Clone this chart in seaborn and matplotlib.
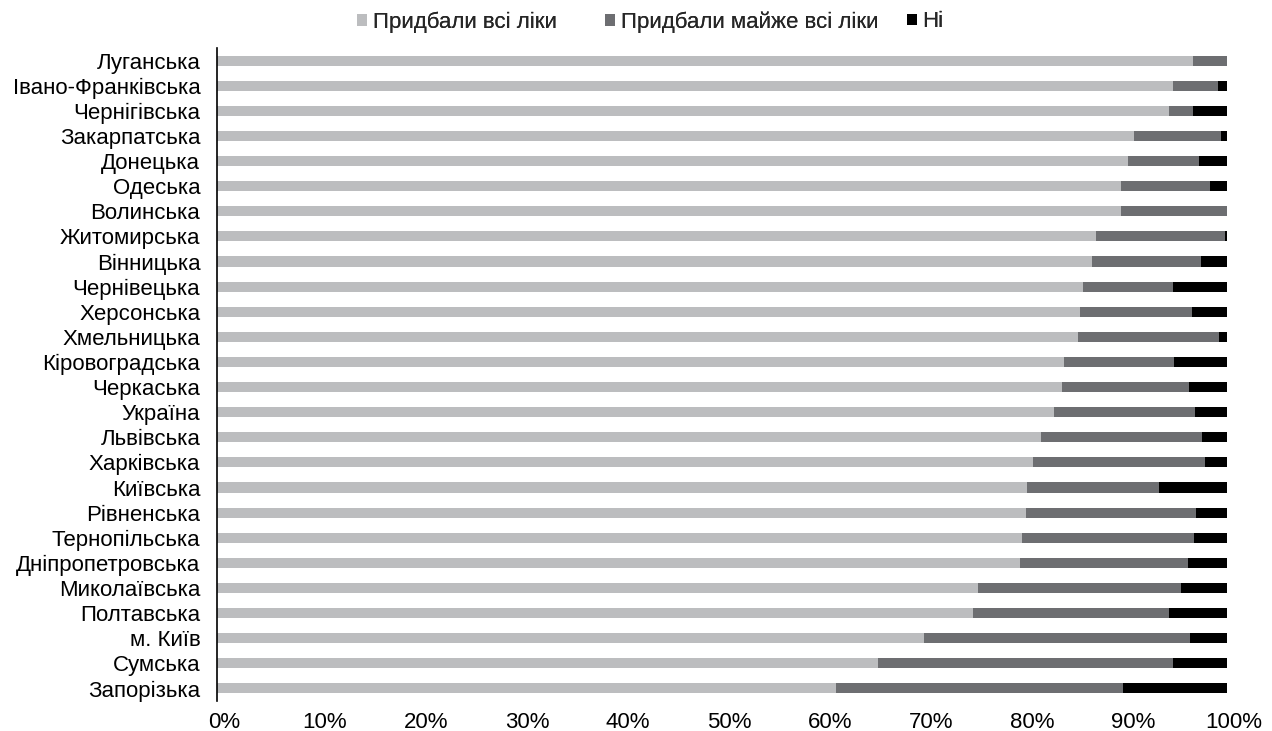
import matplotlib
matplotlib.use("Agg")
import matplotlib.pyplot as plt
import matplotlib.transforms as mtransforms
import seaborn as sns
import pandas as pd
import numpy as np
from matplotlib.patches import Patch
from matplotlib.ticker import PercentFormatter, MultipleLocator

regions = ["Луганська", "Івано-Франківська", "Чернігівська", "Закарпатська", "Донецька",
           "Одеська", "Волинська", "Житомирська", "Вінницька", "Чернівецька",
           "Херсонська", "Хмельницька", "Кіровоградська", "Черкаська", "Україна",
           "Львівська", "Харківська", "Київська", "Рівненська", "Тернопільська",
           "Дніпропетровська", "Миколаївська", "Полтавська", "м. Київ", "Сумська",
           "Запорізька"]
bought_all = [96.6, 94.7, 94.3, 90.8, 90.2, 89.5, 89.5, 87.0, 86.6, 85.7, 85.4, 85.2, 83.9,
              83.7, 82.9, 81.6, 80.8, 80.2, 80.1, 79.7, 79.5, 75.3, 74.9, 70.0, 65.4, 61.3]
bought_most = [3.4, 4.4, 2.3, 8.6, 7.0, 8.8, 10.5, 12.8, 10.8, 9.0, 11.1, 14.0, 10.9,
               12.5, 13.9, 15.9, 17.0, 13.1, 16.8, 17.0, 16.6, 20.1, 19.4, 26.3, 29.3, 28.4]
bought_none = [0.0, 0.9, 3.4, 0.6, 2.8, 1.7, 0.0, 0.2, 2.6, 5.3, 3.5, 0.8, 5.2,
               3.8, 3.2, 2.5, 2.2, 6.7, 3.1, 3.3, 3.9, 4.6, 5.7, 3.7, 5.3, 10.3]
series_names = ["Придбали всі ліки", "Придбали майже всі ліки", "Ні"]
colors = ["#BCBDBF", "#6D6E71", "#000000"]

df = pd.DataFrame({"region": regions,
                   "all": np.array(bought_all) / 100,
                   "most": np.array(bought_most) / 100,
                   "none": np.array(bought_none) / 100})
df["c1"] = df["all"]
df["c2"] = df["all"] + df["most"]
df["c3"] = df["c2"] + df["none"]

sns.set_theme(style="white")
plt.rcParams["font.family"] = ["Liberation Sans", "DejaVu Sans"]
FS = 16

fig = plt.figure(figsize=(12.72, 7.31), dpi=100)
ax = fig.add_axes([217 / 1272, 30 / 731, 1010 / 1272, 653 / 731])

# stacked bars: draw cumulative totals from the largest down
for col, color in zip(["c3", "c2", "c1"], colors[::-1]):
    sns.barplot(data=df, x=col, y="region", orient="h", color=color,
                width=0.4, ax=ax, saturation=1, linewidth=0)

ax.set_xlim(0, 1)
ax.set_ylim(len(regions) - 0.5, -0.5)
ax.xaxis.set_major_locator(MultipleLocator(0.1))
ax.xaxis.set_major_formatter(PercentFormatter(1.0, decimals=0))
ax.set_xlabel("")
ax.set_ylabel("")
for s in ["top", "right", "bottom"]:
    ax.spines[s].set_visible(False)
ax.spines["left"].set_color("#000000")
ax.spines["left"].set_linewidth(1.2)
ax.tick_params(axis="x", length=0, pad=8, labelsize=FS, colors="#000000")
ax.tick_params(axis="y", length=0, pad=12, labelsize=FS, colors="#000000")

shift = mtransforms.ScaledTranslation(7 / 100, 0, fig.dpi_scale_trans)
for lbl in ax.get_xticklabels():
    lbl.set_transform(lbl.get_transform() + shift)

# legend entries placed individually along the top
legend_x = [357, 605, 907]
for name, color, lx in zip(series_names, colors, legend_x):
    leg = fig.legend([Patch(facecolor=color, edgecolor="none")], [name],
                     loc="center left", bbox_to_anchor=(lx / 1272, 0.970),
                     frameon=False, fontsize=FS, handlelength=0.45, handleheight=0.45,
                     handletextpad=0.25, borderpad=0, borderaxespad=0)
    fig.add_artist(leg)

fig.savefig("out.png", dpi=100)
